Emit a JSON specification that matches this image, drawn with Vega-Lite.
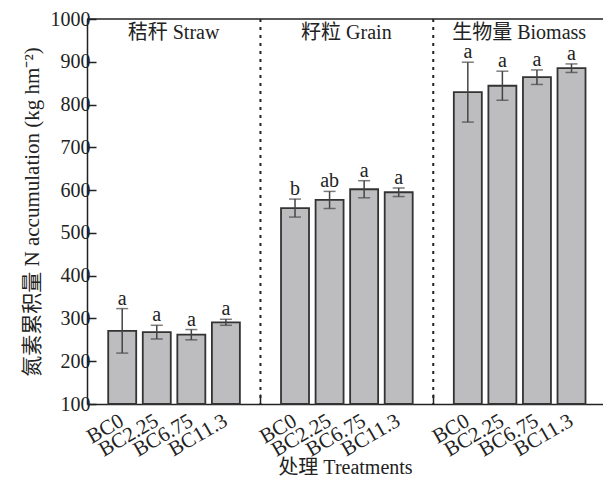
{
  "$schema": "https://vega.github.io/schema/vega-lite/v6.json",
  "width": 516,
  "height": 385,
  "autosize": {"type": "none"},
  "padding": {"left": 87, "top": 19, "right": 0, "bottom": 84},
  "config": {
    "view": {"stroke": null},
    "font": "Liberation Serif, Noto Sans CJK SC",
    "axis": {"labelFont": "Liberation Serif", "titleFont": "Liberation Serif, Noto Sans CJK SC", "labelColor": "#222", "titleColor": "#222", "titleFontWeight": "normal"}
  },
  "datasets": {
    "bars": [
      {"key": "Straw|BC0", "value": 271, "sd": 52, "letter": "a"},
      {"key": "Straw|BC2.25", "value": 268, "sd": 16, "letter": "a"},
      {"key": "Straw|BC6.75", "value": 262, "sd": 12, "letter": "a"},
      {"key": "Straw|BC11.3", "value": 291, "sd": 7, "letter": "a"},
      {"key": "Grain|BC0", "value": 558, "sd": 21, "letter": "b"},
      {"key": "Grain|BC2.25", "value": 577, "sd": 20, "letter": "ab"},
      {"key": "Grain|BC6.75", "value": 602, "sd": 20, "letter": "a"},
      {"key": "Grain|BC11.3", "value": 595, "sd": 10, "letter": "a"},
      {"key": "Biomass|BC0", "value": 829, "sd": 70, "letter": "a"},
      {"key": "Biomass|BC2.25", "value": 844, "sd": 34, "letter": "a"},
      {"key": "Biomass|BC6.75", "value": 864, "sd": 17, "letter": "a"},
      {"key": "Biomass|BC11.3", "value": 885, "sd": 10, "letter": "a"}
    ],
    "gaps": [{"key": "gap1"}, {"key": "gap2"}],
    "groups": [
      {"key": "Straw|BC2.25", "label": "秸秆 Straw"},
      {"key": "Grain|BC2.25", "label": "籽粒 Grain"},
      {"key": "Biomass|BC2.25", "label": "生物量 Biomass"}
    ]
  },
  "layer": [
    {
      "data": {"name": "bars"},
      "mark": {"type": "bar", "fill": "#bdbdbf", "stroke": "#333", "strokeWidth": 1.8},
      "encoding": {
        "x": {
          "field": "key",
          "type": "nominal",
          "sort": null,
          "title": "处理 Treatments",
          "scale": {
            "domain": ["Straw|BC0", "Straw|BC2.25", "Straw|BC6.75", "Straw|BC11.3", "gap1", "Grain|BC0", "Grain|BC2.25", "Grain|BC6.75", "Grain|BC11.3", "gap2", "Biomass|BC0", "Biomass|BC2.25", "Biomass|BC6.75", "Biomass|BC11.3"],
            "paddingInner": 0.19,
            "paddingOuter": 0.56,
            "align": 0.548
          },
          "axis": {
            "titleFontSize": 20,
            "titlePadding": -3,
            "labelExpr": "indexof(datum.value, '|') > 0 ? split(datum.value, '|')[1] : ''",
            "labelFont": "Liberation Serif",
            "labelAngle": -30,
            "labelAlign": "right",
            "labelBaseline": "middle",
            "labelFontSize": 21,
            "labelPadding": 25,
            "labelOverlap": false,
            "tickSize": -10,
            "tickColor": "#222",
            "tickWidth": 1.5,
            "domainColor": "#222",
            "domainWidth": 1.5
          }
        },
        "y": {
          "field": "value",
          "type": "quantitative",
          "title": "氮素累积量 N accumulation (kg hm⁻²)",
          "scale": {"domain": [100, 1000], "nice": false, "zero": false},
          "axis": {
            "titleFontSize": 21,
            "titlePadding": 8,
            "values": [100, 200, 300, 400, 500, 600, 700, 800, 900, 1000],
            "format": "d",
            "labelFont": "Liberation Serif",
            "labelFontSize": 20,
            "labelPadding": 6,
            "tickSize": -9,
            "tickColor": "#222",
            "tickWidth": 1.5,
            "domainColor": "#222",
            "domainWidth": 1.5,
            "grid": false
          }
        },
        "y2": {"datum": 100}
      }
    },
    {
      "data": {"name": "gaps"},
      "mark": {"type": "rule", "strokeDash": [3, 5], "strokeWidth": 2, "color": "#222"},
      "encoding": {"x": {"field": "key", "type": "nominal", "sort": null, "title": "处理 Treatments"}}
    },
    {
      "data": {"values": [{"edge": 1000}]},
      "mark": {"type": "rule", "strokeWidth": 1.5, "color": "#222"},
      "encoding": {"y": {"field": "edge", "type": "quantitative", "title": "氮素累积量 N accumulation (kg hm⁻²)"}}
    },
    {
      "data": {"name": "bars"},
      "mark": {"type": "errorbar", "ticks": {"size": 12, "color": "#444", "thickness": 1.5}, "rule": {"color": "#444", "strokeWidth": 1.5}},
      "encoding": {
        "x": {"field": "key", "type": "nominal", "sort": null, "title": "处理 Treatments"},
        "y": {"field": "value", "type": "quantitative", "title": "氮素累积量 N accumulation (kg hm⁻²)"},
        "yError": {"field": "sd"}
      }
    },
    {
      "data": {"name": "bars"},
      "transform": [{"calculate": "datum.value + datum.sd", "as": "top"}],
      "mark": {"type": "text", "baseline": "alphabetic", "dy": -4, "fontSize": 20, "font": "Liberation Serif", "color": "#222"},
      "encoding": {
        "x": {"field": "key", "type": "nominal", "sort": null, "title": "处理 Treatments"},
        "y": {"field": "top", "type": "quantitative", "title": "氮素累积量 N accumulation (kg hm⁻²)"},
        "text": {"field": "letter"}
      }
    },
    {
      "data": {"name": "groups"},
      "mark": {"type": "text", "baseline": "middle", "fontSize": 20, "color": "#222"},
      "encoding": {
        "x": {"field": "key", "type": "nominal", "sort": null, "title": "处理 Treatments", "bandPosition": 1.1},
        "y": {"datum": 967, "type": "quantitative", "title": "氮素累积量 N accumulation (kg hm⁻²)"},
        "text": {"field": "label"}
      }
    }
  ]
}
